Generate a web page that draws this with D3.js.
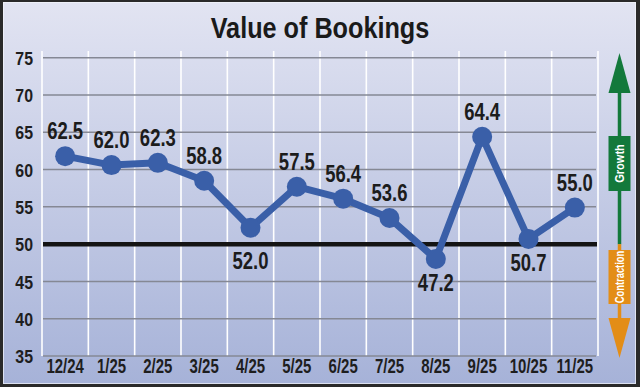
<!DOCTYPE html>
<html>
<head>
<meta charset="utf-8">
<script src="https://cdn.jsdelivr.net/npm/d3@7"></script>
<style>
  html, body { margin: 0; padding: 0; background: #2a2a2a; }
  svg { display: block; }
  text { font-family: "Liberation Sans", Arial, sans-serif; }
</style>
</head>
<body>
<svg id="chart" width="640" height="387"></svg>
<script>
const title = "Value of Bookings";
const categories = ["12/24","1/25","2/25","3/25","4/25","5/25","6/25","7/25","8/25","9/25","10/25","11/25"];
const values = [61.8, 60.6, 60.9, 58.5, 52.2, 57.7, 56.1, 53.5, 48.0, 64.4, 50.7, 54.9];
const valueLabels = ["62.5","62.0","62.3","58.8","52.0","57.5","56.4","53.6","47.2","64.4","50.7","55.0"];
const yTicks = [35, 40, 45, 50, 55, 60, 65, 70, 75];
const threshold = 50;
const growthLabel = "Growth";
const contractionLabel = "Contraction";

const W = 640, H = 387;
const svg = d3.select("#chart");
const defs = svg.append("defs");
const grad = defs.append("linearGradient").attr("id", "bg").attr("x1", 0).attr("y1", 0).attr("x2", 0).attr("y2", 1);
grad.append("stop").attr("offset", "0%").attr("stop-color", "#e2e4f2");
grad.append("stop").attr("offset", "100%").attr("stop-color", "#a6b2d8");

// frame
svg.append("rect").attr("width", W).attr("height", H).attr("fill", "#2a2a2a");
svg.append("rect").attr("x", 3).attr("y", 2).attr("width", W - 7).attr("height", H - 5).attr("fill", "url(#bg)");
svg.append("rect").attr("x", 3.5).attr("y", 2.5).attr("width", W - 8).attr("height", H - 6)
  .attr("fill", "none").attr("stroke", "#f4f5fb").attr("stroke-opacity", 0.7).attr("stroke-width", 1);

// scales
const x = d3.scaleBand().domain(categories).range([42, 598]).padding(0);
const y = d3.scaleLinear().domain([35, 75]).range([356, 57.7]);
const cx = d => x(d) + x.bandwidth() / 2;

// title
svg.append("text").attr("transform", "translate(320,38) scale(0.87,1)")
  .attr("text-anchor", "middle").attr("font-size", 29).attr("font-weight", "bold")
  .attr("fill", "#1a1a1a").text(title);

// vertical white lines
const bounds = categories.map(c => x(c)).concat([x.range()[1]]);
svg.append("g").selectAll("line").data(bounds).join("line")
  .attr("x1", d => d).attr("x2", d => d).attr("y1", 51).attr("y2", y(35))
  .attr("stroke", "#ffffff").attr("stroke-width", 1.6);

// horizontal gridlines
svg.append("g").selectAll("line").data(yTicks.filter(t => t !== threshold)).join("line")
  .attr("x1", 43).attr("x2", 596).attr("y1", d => y(d)).attr("y2", d => y(d))
  .attr("stroke", "#858894").attr("stroke-width", 1.5);

// threshold line
svg.append("line").attr("x1", 43).attr("x2", 597).attr("y1", y(threshold)).attr("y2", y(threshold))
  .attr("stroke", "#141414").attr("stroke-width", 4.5);

// y axis
const yAxis = svg.append("g").attr("transform", "translate(33,0)")
  .call(d3.axisLeft(y).tickValues(yTicks).tickSize(0).tickPadding(0).tickFormat(d3.format("d")));
yAxis.select(".domain").remove();
yAxis.selectAll("text").attr("x", 0).attr("dy", "0.36em").attr("transform", "scale(0.86,1)")
  .attr("font-size", 18.5).attr("font-weight", "bold").attr("fill", "#1e1e1e")
  .attr("font-family", "Liberation Sans, Arial, sans-serif");

// x axis
const xAxis = svg.append("g").attr("transform", `translate(0,${y(35)})`)
  .call(d3.axisBottom(x).tickSize(0));
xAxis.select(".domain").remove();
xAxis.selectAll("text").attr("y", 17).attr("dy", 0).attr("transform", "scale(0.75,1)")
  .attr("font-size", 20).attr("font-weight", "bold").attr("fill", "#1e1e1e")
  .attr("font-family", "Liberation Sans, Arial, sans-serif");

// line + markers
const pts = categories.map((c, i) => ({ c, v: values[i], label: valueLabels[i], i }));
svg.append("path").datum(pts)
  .attr("d", d3.line().x(d => cx(d.c)).y(d => y(d.v)))
  .attr("fill", "none").attr("stroke", "#3a5fa8").attr("stroke-width", 7).attr("stroke-linejoin", "round");
svg.append("g").selectAll("circle").data(pts).join("circle")
  .attr("cx", d => cx(d.c)).attr("cy", d => y(d.v)).attr("r", 10).attr("fill", "#3a5fa8");

// value labels
const below = d => d.i > 0 && d.i < pts.length - 1 &&
  values[d.i] < values[d.i - 1] && values[d.i] < values[d.i + 1] && values[d.i] < 53;
svg.append("g").selectAll("text").data(pts).join("text")
  .attr("transform", d => {
    const yy = below(d) ? Math.max(y(d.v) + 32, y(threshold) + 25) : y(d.v) - 17;
    return `translate(${cx(d.c)},${yy}) scale(0.77,1)`;
  })
  .attr("text-anchor", "middle").attr("font-size", 24).attr("font-weight", "bold")
  .attr("fill", "#1c1c1c").text(d => d.label);

// growth / contraction arrow
const ax = 619.5;
const green = "#13793b", orange = "#e38d17";
svg.append("line").attr("x1", ax).attr("x2", ax).attr("y1", 90).attr("y2", y(threshold))
  .attr("stroke", green).attr("stroke-width", 3.5);
svg.append("line").attr("x1", ax).attr("x2", ax).attr("y1", y(threshold)).attr("y2", 321)
  .attr("stroke", orange).attr("stroke-width", 3.5);
svg.append("path").attr("d", `M${ax},53 L${ax + 11},93 L${ax - 11},93 Z`).attr("fill", green);
svg.append("path").attr("d", `M${ax},358 L${ax + 11},318 L${ax - 11},318 Z`).attr("fill", orange);
svg.append("rect").attr("x", ax - 11).attr("y", 136).attr("width", 22).attr("height", 55).attr("fill", green);
svg.append("rect").attr("x", ax - 11).attr("y", 250).attr("width", 22).attr("height", 54).attr("fill", orange);
svg.append("text").attr("transform", `translate(${ax + 4.5},163.5) rotate(-90) scale(0.85,1)`)
  .attr("text-anchor", "middle").attr("font-size", 13).attr("font-weight", "bold")
  .attr("fill", "#ffffff").text(growthLabel);
svg.append("text").attr("transform", `translate(${ax + 4.5},277) rotate(-90) scale(0.72,1)`)
  .attr("text-anchor", "middle").attr("font-size", 13).attr("font-weight", "bold")
  .attr("fill", "#ffffff").text(contractionLabel);
</script>
</body>
</html>
